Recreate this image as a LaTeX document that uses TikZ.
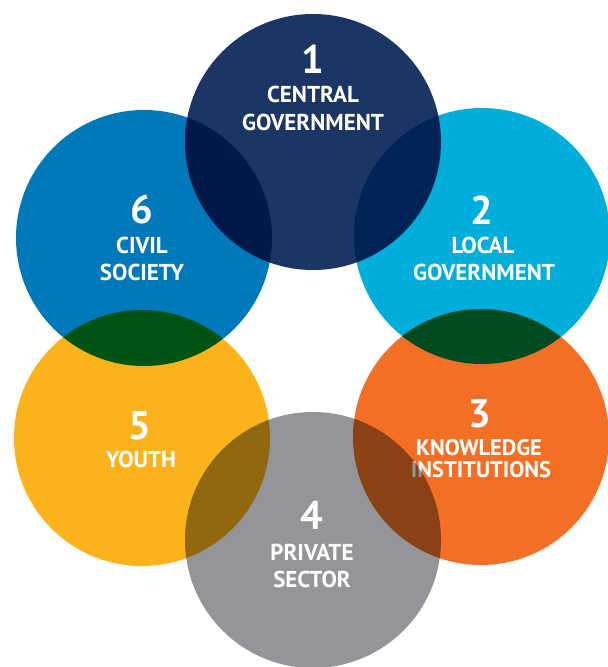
\documentclass[tikz,border=0pt]{standalone}
\usepackage{fontspec}
\setmainfont{PT Sans}
\definecolor{cOne}{HTML}{1B3564}
\definecolor{cTwo}{HTML}{00AEDB}
\definecolor{cThree}{HTML}{F26F25}
\definecolor{cFour}{HTML}{939598}
\definecolor{cFive}{HTML}{FBB21B}
\definecolor{cSix}{HTML}{0079BA}
\tikzset{
  disc/.style={blend mode=multiply},
  num/.style={text=white,font=\fontsize{40}{40}\selectfont\bfseries,anchor=base,inner sep=0pt},
  lbl/.style={text=white,font=\fontsize{23}{23}\selectfont\bfseries,anchor=base,inner sep=0pt},
  lblsm/.style={text=white,font=\fontsize{22.5}{22.5}\selectfont\bfseries,anchor=base,inner sep=0pt}
}
\begin{document}
\begin{tikzpicture}[x=1pt,y=-1pt]
\useasboundingbox (0,0) rectangle (608,667);
\fill[white] (0,0) rectangle (608,667);
% circles
\fill[cOne,disc] (313,142) circle[radius=128pt];
\fill[cTwo,disc] (482,236) circle[radius=128pt];
\fill[cThree,disc] (481,437) circle[radius=128pt];
\fill[cFive,disc] (142,438) circle[radius=128pt];
\fill[cSix,disc] (144,238) circle[radius=128pt];
% texts
\node[num] (n1) at (313,73) {1};
\node[lbl] (a1) at (313,102) {CENTRAL};
\node[lbl] (b1) at (313,130) {GOVERNMENT};
\node[num] (n2) at (482,224) {2};
\node[lbl] (a2) at (483,253) {LOCAL};
\node[lbl] (b2) at (484,280) {GOVERNMENT};
\node[num] (n3) at (480,427) {3};
\node[lblsm] (a3) at (479,455) {KNOWLEDGE};
\node[lblsm] (b3) at (481,477) {INSTITUTIONS};
\node[num] (n5) at (140,439) {5};
\node[lbl] (a5) at (141,467) {YOUTH};
\node[num] (n6) at (142,223) {6};
\node[lbl] (a6) at (142,253) {CIVIL};
\node[lbl] (b6) at (142,280) {SOCIETY};
% circle 4 on top of text 3
\fill[cFour,disc] (313,540) circle[radius=128pt];
\node[num] (n4) at (312,529) {4};
\node[lbl] (a4) at (312,560) {PRIVATE};
\node[lbl] (b4) at (312,587) {SECTOR};
\end{tikzpicture}
\end{document}
